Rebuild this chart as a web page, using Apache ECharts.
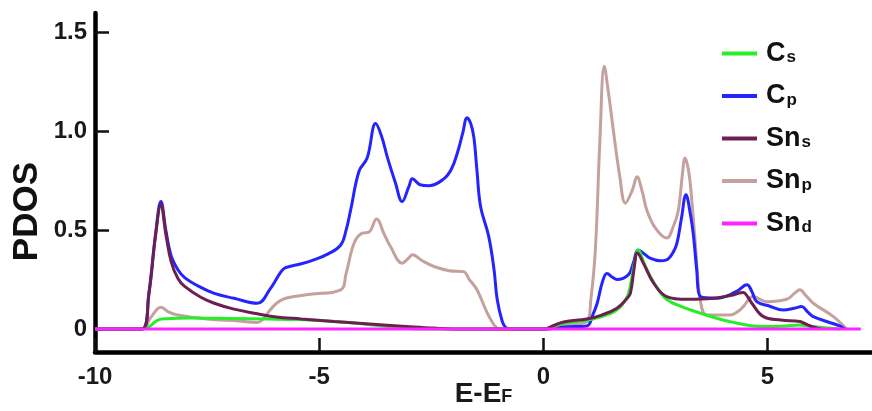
<!DOCTYPE html>
<html>
<head>
<meta charset="utf-8">
<script src="https://cdn.jsdelivr.net/npm/echarts@6/dist/echarts.min.js"></script>
<style>
  html, body { margin: 0; padding: 0; background: #fff; }
  #chart { width: 872px; height: 411px; }
</style>
</head>
<body>
<div id="chart"></div>
<script>
// Projected density of states, [E - E_F (eV), PDOS]
const cS = [[-10,0],[-8.95,0],[-8.8,0.01],[-8.6,0.045],[-8.4,0.052],[-7.9,0.055],[-7,0.053],[-6.15,0.05],[-5.5,0.047],[-4.67,0.037],[-4,0.025],[-3.4,0.01],[-3,0.002],[-2.5,0],
  [0.05,0],[0.2,0.01],[0.5,0.03],[1.0,0.045],[1.4,0.07],[1.6,0.09],[1.75,0.12],[1.9,0.18],[2.02,0.32],[2.12,0.40],[2.25,0.33],[2.45,0.24],[2.7,0.16],[3.0,0.12],[3.5,0.08],[4.16,0.037],[4.9,0.012],[5.4,0.015],[5.7,0.02],[6.0,0.012],[6.4,0.003],[6.6,0]];

const cP = [[-10,0],[-8.95,0],[-8.8,0.18],[-8.65,0.48],[-8.53,0.645],[-8.42,0.5],[-8.3,0.37],[-8.15,0.30],[-8.0,0.26],[-7.64,0.21],[-7.34,0.18],[-6.9,0.155],[-6.38,0.13],[-6.1,0.2],[-5.85,0.29],[-5.75,0.31],[-5.4,0.33],[-5.12,0.35],[-4.8,0.38],[-4.52,0.425],[-4.4,0.5],[-4.3,0.60],[-4.11,0.80],[-3.93,0.865],[-3.74,1.04],[-3.6,0.97],[-3.48,0.87],[-3.3,0.74],[-3.15,0.645],[-3.0,0.72],[-2.92,0.76],[-2.75,0.73],[-2.55,0.725],[-2.22,0.76],[-2.05,0.81],[-1.92,0.89],[-1.8,0.99],[-1.70,1.07],[-1.62,1.04],[-1.55,0.97],[-1.48,0.80],[-1.40,0.62],[-1.22,0.47],[-1.1,0.30],[-1.03,0.15],[-0.92,0.04],[-0.85,0.01],[-0.75,0],
  [0.05,0],[0.5,0.01],[0.97,0.015],[1.1,0.07],[1.2,0.13],[1.32,0.24],[1.42,0.28],[1.55,0.26],[1.64,0.25],[1.9,0.275],[2.0,0.33],[2.12,0.40],[2.25,0.38],[2.38,0.358],[2.6,0.345],[2.75,0.35],[2.9,0.39],[2.98,0.434],[3.08,0.56],[3.18,0.68],[3.28,0.58],[3.35,0.468],[3.42,0.3],[3.5,0.164],[3.87,0.155],[4.31,0.19],[4.54,0.223],[4.65,0.19],[4.76,0.138],[5.05,0.115],[5.35,0.096],[5.6,0.105],[5.76,0.113],[5.9,0.085],[6.02,0.062],[6.35,0.035],[6.61,0.015],[6.72,0]];

const snS = [[-10,0],[-8.95,0],[-8.8,0.17],[-8.65,0.47],[-8.53,0.63],[-8.42,0.48],[-8.3,0.34],[-8.15,0.255],[-8.0,0.215],[-7.64,0.16],[-7.34,0.13],[-6.9,0.10],[-6.38,0.077],[-6.0,0.062],[-5.4,0.05],[-4.67,0.037],[-3.56,0.02],[-2.9,0.01],[-2.44,0.004],[-2,0],
  [0.05,0],[0.16,0.01],[0.45,0.035],[0.97,0.05],[1.3,0.07],[1.64,0.105],[1.85,0.15],[1.94,0.18],[2.02,0.3],[2.10,0.385],[2.23,0.333],[2.46,0.232],[2.75,0.164],[3.2,0.15],[3.79,0.155],[4.2,0.17],[4.46,0.184],[4.55,0.165],[4.65,0.13],[4.91,0.062],[5.3,0.045],[5.72,0.037],[5.85,0.025],[6.02,0.01],[6.2,0]];

const snP = [[-10,0],[-8.95,0],[-8.75,0.06],[-8.53,0.11],[-8.35,0.085],[-8.16,0.07],[-7.5,0.05],[-6.8,0.04],[-6.38,0.032],[-6.25,0.05],[-6.15,0.08],[-5.95,0.13],[-5.75,0.155],[-5.2,0.175],[-4.52,0.198],[-4.4,0.28],[-4.22,0.435],[-4.04,0.485],[-3.89,0.49],[-3.72,0.556],[-3.55,0.48],[-3.41,0.417],[-3.15,0.333],[-3.0,0.36],[-2.92,0.375],[-2.7,0.345],[-2.44,0.316],[-2.1,0.295],[-1.78,0.29],[-1.65,0.25],[-1.48,0.198],[-1.25,0.08],[-1.1,0.02],[-1.03,0.004],[-0.95,0],
  [0.05,0],[0.3,0.015],[0.97,0.037],[1.06,0.15],[1.16,0.40],[1.26,0.95],[1.36,1.33],[1.45,1.2],[1.57,0.99],[1.7,0.78],[1.83,0.637],[1.98,0.7],[2.09,0.77],[2.2,0.7],[2.31,0.60],[2.5,0.51],[2.75,0.46],[2.9,0.52],[3.01,0.60],[3.1,0.78],[3.16,0.865],[3.24,0.8],[3.31,0.654],[3.4,0.4],[3.50,0.147],[3.65,0.07],[4.16,0.07],[4.35,0.09],[4.46,0.113],[4.68,0.164],[4.98,0.138],[5.43,0.15],[5.6,0.18],[5.72,0.198],[5.85,0.17],[6.02,0.13],[6.47,0.062],[6.76,0]];

const snD = [[-10,0],[7.08,0]];

const xTicks = [-10, -5, 0, 5];
const yTicks = [0, 0.5, 1.0, 1.5];

const legendOrder = ['Cs', 'Cp', 'Sns', 'Snp', 'Snd'];
const legendText = {
  Cs: '{m|C}{s|s}', Cp: '{m|C}{s|p}', Sns: '{m|Sn}{s|s}', Snp: '{m|Sn}{s|p}', Snd: '{m|Sn}{s|d}'
};

const FONT = '"Liberation Sans", Arial, sans-serif';

function lineSeries(name, data, color, z) {
  return {
    name: name, type: 'line', data: data, z: z,
    symbol: 'none', smooth: 0.4,
    lineStyle: { color: color, width: 3 },
    itemStyle: { color: color }
  };
}

const chart = echarts.init(document.getElementById('chart'), null, { renderer: 'canvas' });
chart.setOption({
  animation: false,
  backgroundColor: '#fff',
  grid: { left: 95, right: 0, top: 13, bottom: 59, containLabel: false, outerBoundsMode: 'none' },
  xAxis: {
    type: 'value', min: -10, max: 7.33,
    name: '{m|E-E}{s|F}', nameLocation: 'middle', nameGap: 27, nameMoveOverlap: false,
    nameTextStyle: {
      rich: {
        m: { fontFamily: FONT, fontWeight: 'bold', fontSize: 28, color: '#1a1a1a', lineHeight: 30 },
        s: { fontFamily: FONT, fontWeight: 'bold', fontSize: 18, color: '#1a1a1a', lineHeight: 30, padding: [7, 0, 0, 0] }
      }
    },
    axisLine: { show: true, onZero: false, lineStyle: { color: '#000', width: 4.5 } },
    axisTick: { show: true, inside: true, length: 14, customValues: xTicks, lineStyle: { color: '#111', width: 2.5 } },
    axisLabel: { customValues: xTicks, margin: 13, fontFamily: FONT, fontWeight: 'bold', fontSize: 24, color: '#1a1a1a' },
    splitLine: { show: false }
  },
  yAxis: {
    type: 'value', min: -0.117, max: 1.6,
    axisLine: { show: true, onZero: false, lineStyle: { color: '#000', width: 4.5 } },
    axisTick: { show: true, inside: true, length: 14, customValues: yTicks, lineStyle: { color: '#111', width: 2.5 } },
    axisLabel: {
      customValues: yTicks, margin: 8, fontFamily: FONT, fontWeight: 'bold', fontSize: 24, color: '#1a1a1a',
      formatter: v => (v === 0 ? '0' : v.toFixed(1))
    },
    splitLine: { show: false }
  },
  legend: {
    orient: 'vertical', left: 717, top: 35,
    data: legendOrder.map(n => ({ name: n, icon: 'rect' })),
    itemWidth: 35, itemHeight: 4, itemGap: 15.5,
    formatter: n => legendText[n],
    textStyle: {
      padding: [0, 0, 0, 4],
      rich: {
        m: { fontFamily: FONT, fontWeight: 'bold', fontSize: 27, color: '#111', lineHeight: 30 },
        s: { fontFamily: FONT, fontWeight: 'bold', fontSize: 17, color: '#111', lineHeight: 30, padding: [8, 0, 0, 1] }
      }
    }
  },
  graphic: [{
    type: 'text', left: 10, top: 162,
    rotation: Math.PI / 2,
    style: { text: 'PDOS', fontFamily: FONT, fontWeight: 'bold', fontSize: 35, fill: '#111' }
  }],
  series: [
    lineSeries('Snp', snP, '#c4a19d', 2),
    lineSeries('Cp', cP, '#2424ff', 3),
    lineSeries('Cs', cS, '#28ee28', 4),
    lineSeries('Sns', snS, '#6c2050', 5),
    lineSeries('Snd', snD, '#ff24ff', 6)
  ]
});
</script>
</body>
</html>
